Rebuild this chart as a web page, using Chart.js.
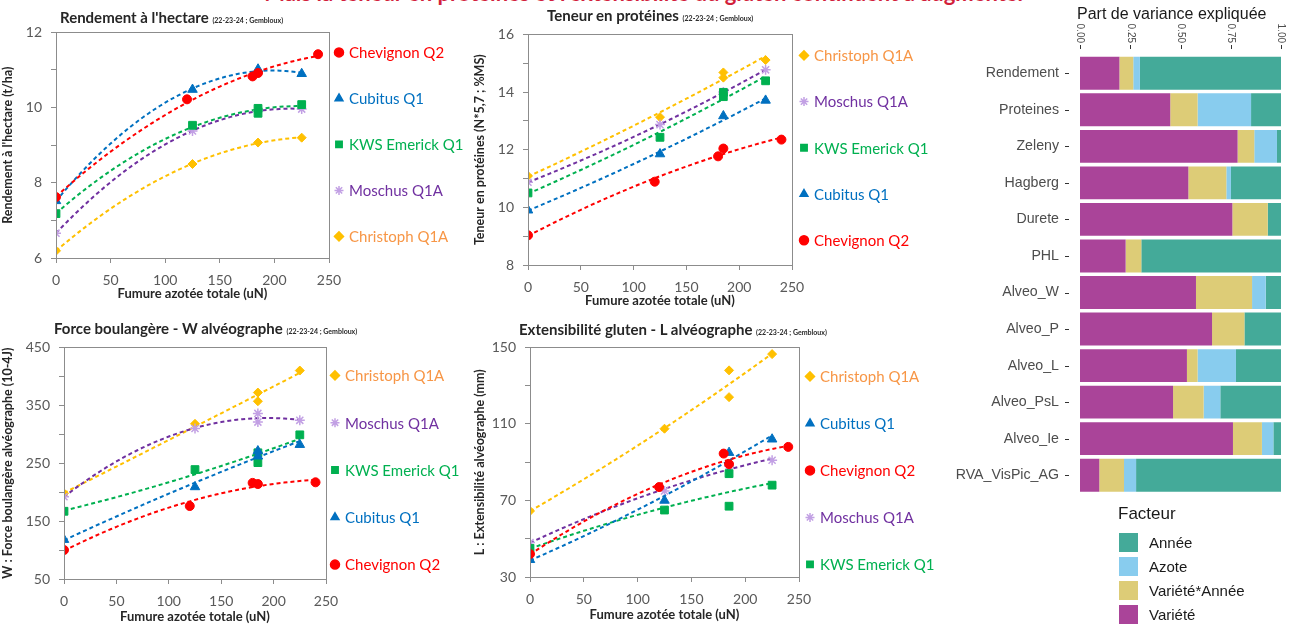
<!DOCTYPE html>
<html>
<head>
<meta charset="utf-8">
<script src="https://cdn.jsdelivr.net/npm/chart.js@4.4.1/dist/chart.umd.min.js"></script>
<style>
body { margin:0; width:1295px; height:630px; overflow:hidden; position:relative; background:#fff; font-family:Lato, sans-serif; }
.bigtitle { position:absolute; left:200px; width:890px; top:-21px; text-align:center; font:bold 22px Lato; color:#d21f3c; white-space:nowrap; }
.ptitle { position:absolute; font:bold 15px Lato; color:#262626; white-space:nowrap; line-height:18px; }
.ptitle small { font-size:7px; }
canvas { position:absolute; }
.vtitle { position:absolute; left:1077px; top:5px; font:16px "Liberation Sans"; color:#1a1a1a; white-space:nowrap; }
.leg { position:absolute; left:1118px; top:504px; font:15px "Liberation Sans"; color:#1a1a1a; }
.leg .head { font-size:17px; margin-bottom:6px; }
.leg .it { height:24px; display:flex; align-items:center; }
.leg .sw { width:21px; height:21px; margin-right:10px; box-sizing:border-box; border:1px solid #fff; }
</style>
</head>
<body>
<div class="bigtitle">Mais la teneur en protéines et l'extensibilité du gluten continuent à augmenter</div>
<canvas id="c1" width="480" height="289" style="left:0;top:15px"></canvas>
<canvas id="c2" width="480" height="294" style="left:472px;top:17px"></canvas>
<canvas id="c3" width="480" height="297" style="left:0;top:330px"></canvas>
<canvas id="c4" width="480" height="295" style="left:472px;top:330px"></canvas>
<canvas id="c5" width="355" height="515" style="left:940px;top:0"></canvas>
<div class="ptitle" style="left:60px;top:8px">Rendement à l'hectare <small>(22-23-24 ; Gembloux)</small></div>
<div class="ptitle" style="left:547px;top:6px">Teneur en protéines <small>(22-23-24 ; Gembloux)</small></div>
<div class="ptitle" style="left:54px;top:319px">Force boulangère - W alvéographe <small>(22-23-24 ; Gembloux)</small></div>
<div class="ptitle" style="left:519px;top:320px">Extensibilité gluten - L alvéographe <small>(22-23-24 ; Gembloux)</small></div>
<div class="vtitle">Part de variance expliquée</div>
<div class="leg" id="leg"></div>
<script>
// varieties
const varieties = ['Chevignon Q2', 'Cubitus Q1', 'KWS Emerick Q1', 'Moschus Q1A', 'Christoph Q1A'];
const markerColors = ['#ff0000', '#0070c0', '#00b050', '#c2a0e4', '#ffc000'];
const lineColors = ['#ff0000', '#0070c0', '#00b050', '#7030a0', '#ffc000'];
const textColors = ['#ff0000', '#0070c0', '#00b050', '#7030a0', '#f79646'];
const markerStyles = ['circle', 'triangle', 'rect', 'star', 'rectRot'];
const markerRadius = [4.5, 5.5, 5.5, 5, 4.5];

// Rendement (t/ha) : [uN, valeur]
const rdtChevignon = [[0,7.62],[120,10.22],[180,10.83],[185,10.92],[240,11.42]];
const rdtCubitus = [[0,7.52],[125,10.48],[185,11.02],[225,10.9]];
const rdtEmerick = [[0,7.18],[125,9.53],[185,9.98],[185,9.85],[225,10.08]];
const rdtMoschus = [[0,6.66],[125,9.38],[185,9.92],[225,9.96]];
const rdtChristoph = [[0,6.19],[125,8.5],[185,9.07],[225,9.2]];

// Teneur en proteines (%MS)
const protChevignon = [[0,9.03],[120,10.89],[180,11.77],[185,12.04],[240,12.35]];
const protCubitus = [[0,9.9],[125,11.85],[185,13.17],[225,13.71]];
const protEmerick = [[0,10.5],[125,12.43],[185,13.99],[185,13.84],[225,14.39]];
const protMoschus = [[0,10.87],[125,12.87],[185,14.0],[225,14.77]];
const protChristoph = [[0,11.09],[125,13.13],[185,14.68],[185,14.5],[225,15.11]];

// W alveographe
const wChevignon = [[0,100],[120,176],[180,216],[185,214],[240,217]];
const wCubitus = [[0,118],[125,209],[185,271],[185,262],[225,282]];
const wEmerick = [[0,167],[125,239],[185,268],[185,251],[225,299]];
const wMoschus = [[0,192],[125,310],[185,336],[185,321],[225,324]];
const wChristoph = [[0,198],[125,318],[185,372],[185,357],[225,410]];

// L alveographe
const lChevignon = [[0,42],[120,77],[180,94.5],[185,89],[240,98]];
const lCubitus = [[0,39],[125,70],[185,95],[225,102]];
const lEmerick = [[0,45],[125,65],[185,84],[185,67],[225,78]];
const lMoschus = [[0,48],[125,75],[185,88],[225,91]];
const lChristoph = [[0,64.5],[125,107.5],[185,138],[185,124],[225,146.5]];

// part de variance
const categories = ['Rendement','Proteines','Zeleny','Hagberg','Durete','PHL','Alveo_W','Alveo_P','Alveo_L','Alveo_PsL','Alveo_Ie','RVA_VisPic_AG'];
const variete = [0.196,0.449,0.784,0.539,0.758,0.227,0.577,0.657,0.532,0.463,0.761,0.096];
const varieteAnnee = [0.069,0.136,0.083,0.189,0.176,0.078,0.279,0.161,0.053,0.152,0.144,0.123];
const azote = [0.033,0.266,0.113,0.023,0,0,0.068,0,0.191,0.083,0.057,0.060];
const annee = [0.702,0.149,0.020,0.249,0.066,0.695,0.076,0.182,0.224,0.302,0.038,0.721];
const facteurs = ['Variété', 'Variété*Année', 'Azote', 'Année'];
const facteurColors = ['#aa4499', '#ddcc77', '#88ccee', '#44aa99'];

Chart.defaults.font.family = 'Lato';
Chart.defaults.animation = false;

// polynomial (order 2) trendline, like the excel one
function quadFit(pts) {
  let S = [0,0,0,0,0], T = [0,0,0];
  pts.forEach(([x, y]) => {
    let p = 1;
    for (let k = 0; k < 5; k++) { S[k] += p; if (k < 3) T[k] += y * p; p *= x; }
  });
  const M = [[S[0],S[1],S[2],T[0]],[S[1],S[2],S[3],T[1]],[S[2],S[3],S[4],T[2]]];
  for (let i = 0; i < 3; i++)
    for (let j = i + 1; j < 3; j++) {
      const f = M[j][i] / M[i][i];
      for (let k = i; k < 4; k++) M[j][k] -= f * M[i][k];
    }
  const c = [0,0,0];
  for (let i = 2; i >= 0; i--) {
    let s = M[i][3];
    for (let k = i + 1; k < 3; k++) s -= M[i][k] * c[k];
    c[i] = s / M[i][i];
  }
  return c;
}
function trend(pts) {
  const c = quadFit(pts);
  const maxX = Math.max(...pts.map(p => p[0]));
  const out = [];
  for (let x = 0; x <= maxX; x += 5) out.push({x: x, y: c[0] + c[1] * x + c[2] * x * x});
  return out;
}

const frame = {
  id: 'frame',
  afterDraw(chart) {
    const a = chart.chartArea, ctx = chart.ctx;
    ctx.save();
    ctx.strokeStyle = '#8c8c8c';
    ctx.lineWidth = 1;
    ctx.strokeRect(Math.round(a.left) + 0.5, Math.round(a.top) + 0.5, Math.round(a.width), Math.round(a.height));
    ctx.restore();
  }
};

const sideLegend = {
  id: 'sideLegend',
  afterDraw(chart, args, o) {
    if (!o.order) return;
    const a = chart.chartArea, ctx = chart.ctx;
    ctx.save();
    ctx.font = '15px Lato';
    ctx.textBaseline = 'middle';
    o.order.forEach((v, i) => {
      const y = a.top + o.first + i * o.pitch;
      const x = a.right + o.dx;
      ctx.fillStyle = markerColors[v];
      ctx.strokeStyle = markerColors[v];
      ctx.lineWidth = 1.5;
      Chart.helpers.drawPoint(ctx, {pointStyle: markerStyles[v], radius: 4.5, rotation: 0, borderWidth: 1.5}, x, y);
      ctx.fillStyle = textColors[v];
      ctx.fillText(varieties[v], x + 10, y + 1);
    });
    ctx.restore();
  }
};

function makePanel(id, series, L) {
  const ds = [];
  series.forEach((pts, v) => {
    ds.push({
      label: varieties[v], data: pts.map(p => ({x: p[0], y: p[1]})),
      pointStyle: markerStyles[v], pointRadius: markerRadius[v],
      backgroundColor: markerColors[v], borderColor: markerColors[v],
      pointBorderWidth: markerStyles[v] === 'star' ? 1.5 : 1, showLine: false, order: 0
    });
    ds.push({
      label: varieties[v] + ' tendance', data: trend(pts), showLine: true,
      borderColor: lineColors[v], borderWidth: 2, borderDash: [4, 3],
      pointRadius: 0, fill: false, order: 1
    });
  });
  new Chart(document.getElementById(id), {
    type: 'scatter',
    data: {datasets: ds},
    options: {
      responsive: false,
      layout: {padding: {top: 0, right: L.padRight, left: 0, bottom: 0}},
      plugins: {legend: {display: false}, tooltip: {enabled: false}, sideLegend: L.legend},
      scales: {
        x: {
          min: 0, max: 250,
          ticks: {stepSize: 50, padding: 9, color: '#595959', font: {size: 14}},
          grid: {drawOnChartArea: false, tickLength: 5, color: '#8c8c8c'},
          border: {display: false},
          title: {display: true, text: 'Fumure azotée totale (uN)', color: '#262626', font: {size: 13, weight: 'bold'}, padding: {top: 0, bottom: 2}},
          afterFit(s) { s.height = L.xH; }
        },
        y: {
          min: L.yMin, max: L.yMax,
          ticks: {stepSize: L.yStep, padding: 9, color: '#595959', font: {size: 14},
            callback: v => ((v - L.yMin) % L.yMajor === 0 ? v : '')},
          grid: {drawOnChartArea: false, tickLength: 5, color: '#8c8c8c'},
          border: {display: false},
          title: {display: true, text: L.yTitle, color: '#262626', font: {size: 12.5, weight: 'bold'}, padding: {top: 0, bottom: 4}},
          afterFit(s) { s.width = L.yW; }
        }
      }
    },
    plugins: [frame, sideLegend]
  });
}

makePanel('c1', [rdtChevignon, rdtCubitus, rdtEmerick, rdtMoschus, rdtChristoph], {
  padRight: 151, yW: 56, xH: 46, yMin: 6, yMax: 12, yStep: 1, yMajor: 2,
  yTitle: "Rendement à l'hectare (t/ha)",
  legend: {order: [0,1,2,3,4], first: 20, pitch: 46, dx: 10}
});
makePanel('c2', [protChevignon, protCubitus, protEmerick, protMoschus, protChristoph], {
  padRight: 160, yW: 56, xH: 46, yMin: 8, yMax: 16, yStep: 1, yMajor: 2,
  yTitle: 'Teneur en protéines (N*5,7 ; %MS)',
  legend: {order: [4,3,2,1,0], first: 21, pitch: 46.2, dx: 12}
});
makePanel('c3', [wChevignon, wCubitus, wEmerick, wMoschus, wChristoph], {
  padRight: 154, yW: 64, xH: 48, yMin: 50, yMax: 450, yStep: 50, yMajor: 100,
  yTitle: 'W : Force boulangère alvéographe (10-4J)',
  legend: {order: [4,3,2,1,0], first: 28, pitch: 47.3, dx: 9}
});
makePanel('c4', [lChevignon, lCubitus, lEmerick, lMoschus, lChristoph], {
  padRight: 153, yW: 58, xH: 48, yMin: 30, yMax: 150, yStep: 20, yMajor: 40,
  yTitle: 'L : Extensibilité alvéographe (mm)',
  legend: {order: [4,1,0,3,2], first: 29, pitch: 47, dx: 11}
});

// barres empilees, axe du haut facon ggplot (labels tournes, petits traits)
const ggAxis = {
  id: 'ggAxis',
  afterDraw(chart) {
    const a = chart.chartArea, ctx = chart.ctx, sx = chart.scales.x, sy = chart.scales.y;
    ctx.save();
    ctx.strokeStyle = '#333';
    ctx.lineWidth = 1;
    ctx.beginPath();
    sx.ticks.forEach(t => {
      const x = Math.round(sx.getPixelForValue(t.value)) + 0.5;
      ctx.moveTo(x, a.top - 10); ctx.lineTo(x, a.top - 6);
    });
    sy.ticks.forEach((t, i) => {
      const y = Math.round(sy.getPixelForTick(i)) + 0.5;
      ctx.moveTo(a.left - 15, y); ctx.lineTo(a.left - 11, y);
    });
    ctx.stroke();
    ctx.font = '10px "Liberation Sans"';
    ctx.fillStyle = '#4d4d4d';
    ctx.textAlign = 'right';
    ctx.textBaseline = 'middle';
    sx.ticks.forEach(t => {
      ctx.save();
      ctx.translate(sx.getPixelForValue(t.value), a.top - 12);
      ctx.rotate(Math.PI / 2);
      ctx.fillText(t.value.toFixed(2), 0, 0);
      ctx.restore();
    });
    ctx.restore();
  }
};
const shares = [variete, varieteAnnee, azote, annee];
new Chart(document.getElementById('c5'), {
  type: 'bar',
  data: {
    labels: categories,
    datasets: facteurs.map((f, i) => ({
      label: f, data: shares[i], backgroundColor: facteurColors[i],
      borderWidth: 0, categoryPercentage: 1, barPercentage: 0.9
    }))
  },
  options: {
    responsive: false,
    indexAxis: 'y',
    layout: {padding: {top: 0, right: 14, left: 0, bottom: 0}},
    plugins: {legend: {display: false}, tooltip: {enabled: false}},
    scales: {
      x: {
        position: 'top', stacked: true, min: 0, max: 1,
        ticks: {display: false, stepSize: 0.25},
        grid: {display: false},
        border: {display: false},
        afterFit(s) { s.height = 55; }
      },
      y: {
        stacked: true,
        ticks: {color: '#4d4d4d', padding: 13, font: {family: 'Liberation Sans', size: 14.2}},
        grid: {display: false},
        border: {display: false},
        afterFit(s) { s.width = 140; }
      }
    }
  },
  plugins: [ggAxis]
});

// legende Facteur (ordre inverse comme ggplot)
const leg = document.getElementById('leg');
let html = '<div class="head">Facteur</div>';
for (let i = facteurs.length - 1; i >= 0; i--) {
  html += '<div class="it"><span class="sw" style="background:' + facteurColors[i] + '"></span>' + facteurs[i] + '</div>';
}
leg.innerHTML = html;
</script>
</body>
</html>
